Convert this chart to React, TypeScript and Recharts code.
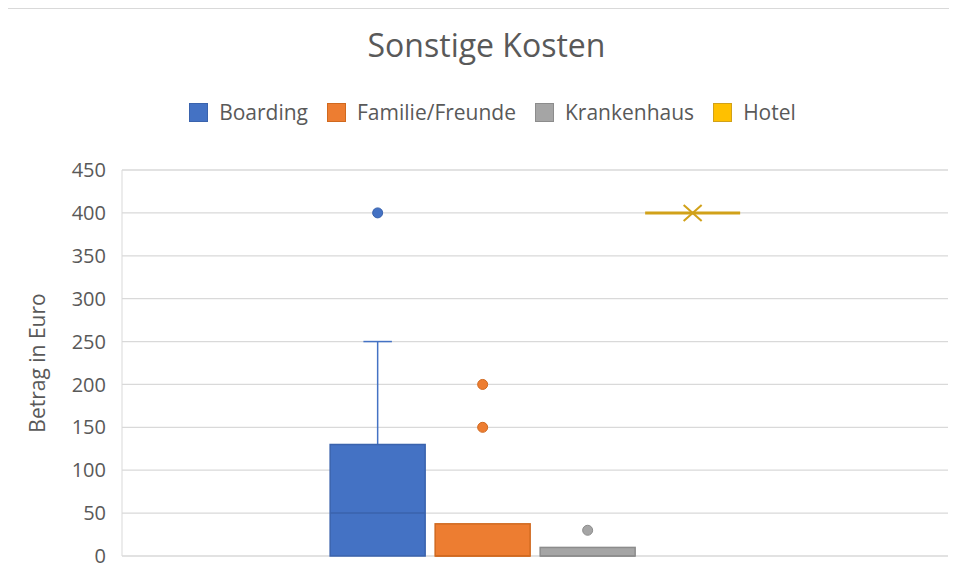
import React from 'react';
import { ComposedChart, Bar, XAxis, YAxis, CartesianGrid, Legend, Label } from 'recharts';

// Box-and-whisker statistics per series (Excel style)
const categories = [''];
const seriesNames = ['Boarding', 'Familie/Freunde', 'Krankenhaus', 'Hotel'];
const whiskerMin = [0, 0, 0, 400];
const quartile1 = [0, 0, 0, 400];
const medians = [50, 0, 0, 400];
const quartile3 = [130, 37.5, 10, 400];
const whiskerMax = [250, 37.5, 10, 400];
const means: (number | null)[] = [null, null, null, 400];
const outliers: number[][] = [[400], [200, 150], [30], []];
const yTicks = [0, 50, 100, 150, 200, 250, 300, 350, 400, 450];

const fills = ['#4472c4', '#ed7d31', '#a5a5a5', '#ffc000'];
const strokes = ['#3a63ad', '#d0691f', '#8c8c8c', '#d1a119'];
const textColor = '#595959';
const font = '"Open Sans", Lato, sans-serif';

// each series spans [0, highest value] so the bar rect gives us the y scale
const data = categories.map((name) => {
  const row: Record<string, any> = { name };
  seriesNames.forEach((_, i) => {
    const all = [whiskerMax[i], quartile3[i], ...outliers[i]];
    row['s' + i] = [0, Math.max(...all)];
  });
  return row;
});

const makeShape = (i: number) => (props: any) => {
  const { x, y, width, height, payload } = props;
  const hi = payload['s' + i][1];
  const base = y + height;
  const k = height / hi;
  const py = (v: number) => base - v * k;
  const cx = x + width / 2;
  const capW = width * 0.3;
  const top = py(quartile3[i]);
  const bot = py(quartile1[i]);
  const stroke = strokes[i];
  return (
    <g>
      {whiskerMax[i] > quartile3[i] && (
        <g stroke={fills[i]} strokeWidth={1.5}>
          <line x1={cx} x2={cx} y1={top} y2={py(whiskerMax[i])} />
          <line x1={cx - capW / 2} x2={cx + capW / 2} y1={py(whiskerMax[i])} y2={py(whiskerMax[i])} />
        </g>
      )}
      {whiskerMin[i] < quartile1[i] && (
        <g stroke={fills[i]} strokeWidth={1.5}>
          <line x1={cx} x2={cx} y1={bot} y2={py(whiskerMin[i])} />
          <line x1={cx - capW / 2} x2={cx + capW / 2} y1={py(whiskerMin[i])} y2={py(whiskerMin[i])} />
        </g>
      )}
      {bot - top > 0 && (
        <rect x={x} y={top} width={width} height={bot - top} fill={fills[i]} stroke={stroke} strokeWidth={1.5} />
      )}
      <line
        x1={x}
        x2={x + width}
        y1={py(medians[i])}
        y2={py(medians[i])}
        stroke={stroke}
        strokeWidth={bot - top > 0 ? 1.5 : 3}
      />
      {means[i] != null && (
        <g stroke={stroke} strokeWidth={2}>
          <line x1={cx - 9} x2={cx + 9} y1={py(means[i] as number) - 8} y2={py(means[i] as number) + 8} />
          <line x1={cx - 9} x2={cx + 9} y1={py(means[i] as number) + 8} y2={py(means[i] as number) - 8} />
        </g>
      )}
      {outliers[i].map((v, j) => (
        <circle key={j} cx={cx} cy={py(v)} r={5} fill={fills[i]} stroke={stroke} strokeWidth={1} />
      ))}
    </g>
  );
};

const renderLegend = () => (
  <div style={{ display: 'flex', justifyContent: 'center', alignItems: 'center', fontFamily: font, fontSize: 21, color: textColor }}>
    {seriesNames.map((name, i) => (
      <div key={name} style={{ display: 'flex', alignItems: 'center', marginRight: i < seriesNames.length - 1 ? 19 : 0 }}>
        <div
          style={{
            width: 19,
            height: 19,
            boxSizing: 'border-box',
            background: fills[i],
            border: `1.5px solid ${strokes[i]}`,
            marginRight: 11,
          }}
        />
        <span>{name}</span>
      </div>
    ))}
  </div>
);

export default function App() {
  return (
    <div style={{ position: 'relative', width: 949, height: 573, background: '#fff' }}>
      <div style={{ position: 'absolute', left: -1, top: 0, width: 950, height: 1, background: '#d9d9d9' }} />
      <div style={{ position: 'absolute', left: -1, top: 0, width: 1, height: 573, background: '#d9d9d9' }} />
      <div
        style={{
          position: 'absolute',
          top: 18,
          left: 4,
          width: 949,
          textAlign: 'center',
          fontFamily: font,
          fontSize: 32,
          lineHeight: '38px',
          color: textColor,
        }}
      >
        Sonstige Kosten
      </div>
      <ComposedChart
        width={949}
        height={573}
        data={data}
        margin={{ top: 162, right: 9, bottom: 25, left: 0 }}
        barCategoryGap="25.2%"
        barGap={10}
      >
        <CartesianGrid vertical={false} stroke="#d9d9d9" strokeWidth={1.3} />
        <XAxis dataKey="name" hide />
        <YAxis
          width={114}
          domain={[0, 450]}
          ticks={yTicks}
          interval={0}
          axisLine={{ stroke: '#d9d9d9' }}
          tickLine={false}
          tickSize={0}
          tickMargin={16}
          tick={{ fill: textColor, fontSize: 20, fontFamily: font }}
        >
          <Label
            value="Betrag in Euro"
            angle={-90}
            position="center"
            dx={-27}
            style={{ fill: textColor, fontSize: 21, fontFamily: font }}
          />
        </YAxis>
        <Legend
          verticalAlign="middle"
          layout="horizontal"
          content={renderLegend}
          wrapperStyle={{ top: 90, left: 10, width: 949 }}
        />
        {seriesNames.map((s, i) => (
          <Bar
            key={s}
            name={s}
            dataKey={'s' + i}
            fill={fills[i]}
            shape={makeShape(i)}
            isAnimationActive={false}
          />
        ))}
      </ComposedChart>
    </div>
  );
}
